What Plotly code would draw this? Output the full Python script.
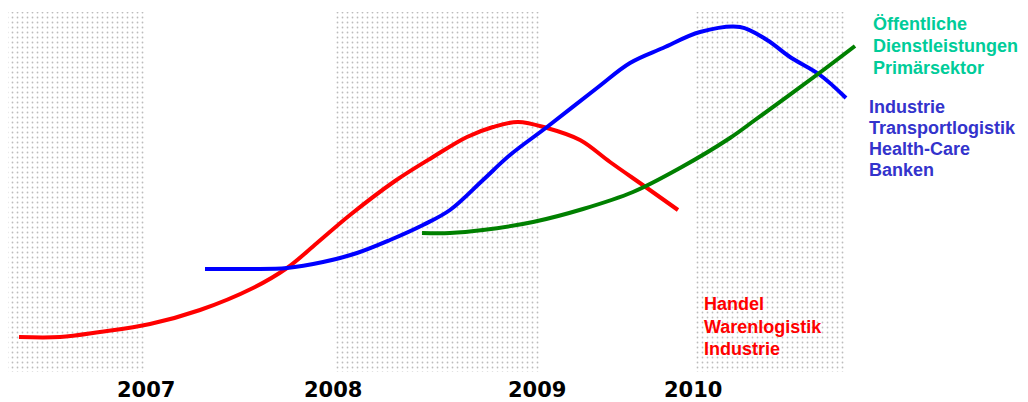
import plotly.graph_objects as go

# Horizontal position axis (0..1028) and level axis (0..402)
years = ["2007", "2008", "2009", "2010"]
year_pos = [146, 333, 537, 693]

# shaded phases: start / end positions
band_start = [8, 334, 696]
band_end = [146, 539, 845]
band_low = 30
band_high = 390

red_x = [19, 60, 100, 150, 200, 253, 287, 317, 350, 395, 433, 467, 493, 518, 547, 580, 610, 647, 678]
red_y = [65, 65, 70, 78, 92, 114, 134, 159, 187, 221, 245, 265, 275, 280, 274, 262, 240, 214, 192]

blue_x = [205, 250, 287, 323, 357, 390, 423, 450, 483, 510, 547, 597, 630, 663, 700, 740, 767, 790, 820, 846]
blue_y = [133, 133, 134, 140, 149, 162, 177, 192, 222, 247, 275, 314, 339, 354, 370, 375, 362, 345, 327, 304]

green_x = [422, 450, 483, 533, 583, 633, 680, 730, 755, 818, 855]
green_y = [169, 169, 172, 180, 193, 210, 234, 264, 282, 328, 356]

green_labels = ["Öffentliche", "Dienstleistungen", "Primärsektor"]
blue_labels = ["Industrie", "Transportlogistik", "Health-Care", "Banken"]
red_labels = ["Handel", "Warenlogistik", "Industrie"]

fig = go.Figure()

centers = [(a + b) / 2 for a, b in zip(band_start, band_end)]
widths = [b - a for a, b in zip(band_start, band_end)]
fig.add_trace(go.Bar(
    x=centers, y=[band_high - band_low] * len(centers), base=band_low, width=widths,
    marker=dict(color="white", line=dict(width=0),
                pattern=dict(shape=".", size=5, solidity=0.1, fgcolor="#bcbcbc", bgcolor="white", fgopacity=1)),
    showlegend=False, hoverinfo="skip"))

for xs, ys, col in [(red_x, red_y, "#FF0000"), (blue_x, blue_y, "#0000FF"), (green_x, green_y, "#008000")]:
    fig.add_trace(go.Scatter(x=xs, y=ys, mode="lines", line=dict(color=col, width=4, shape="spline", smoothing=1.0),
                             showlegend=False, hoverinfo="skip"))

ann = []
font_txt = "Liberation Sans, Arial, sans-serif"
def block(labels, x, y0, dy, color):
    for i, t in enumerate(labels):
        ann.append(dict(x=x, y=y0 - i * dy, text="<b>%s</b>" % t, showarrow=False, xanchor="left", yanchor="middle",
                        font=dict(family=font_txt, size=18, color=color)))

block(green_labels, 871, 402 - 24, 22, "#00CC99")
block(blue_labels, 867, 402 - 106.5, 21.3, "#3333CC")
block(red_labels, 702, 402 - 304, 22.5, "#FF0000")

for t, p in zip(years, year_pos):
    ann.append(dict(x=p, y=402 - 390, text="<b>%s</b>" % t, showarrow=False, xanchor="center", yanchor="middle",
                    font=dict(family="DejaVu Sans", size=21, color="black")))

fig.update_layout(
    width=1028, height=402, margin=dict(l=0, r=0, t=0, b=0),
    paper_bgcolor="white", plot_bgcolor="white",
    xaxis=dict(range=[0, 1028], visible=False, fixedrange=True),
    yaxis=dict(range=[0, 402], visible=False, fixedrange=True),
    annotations=ann, barmode="overlay",
)

fig.write_html("out.html")
